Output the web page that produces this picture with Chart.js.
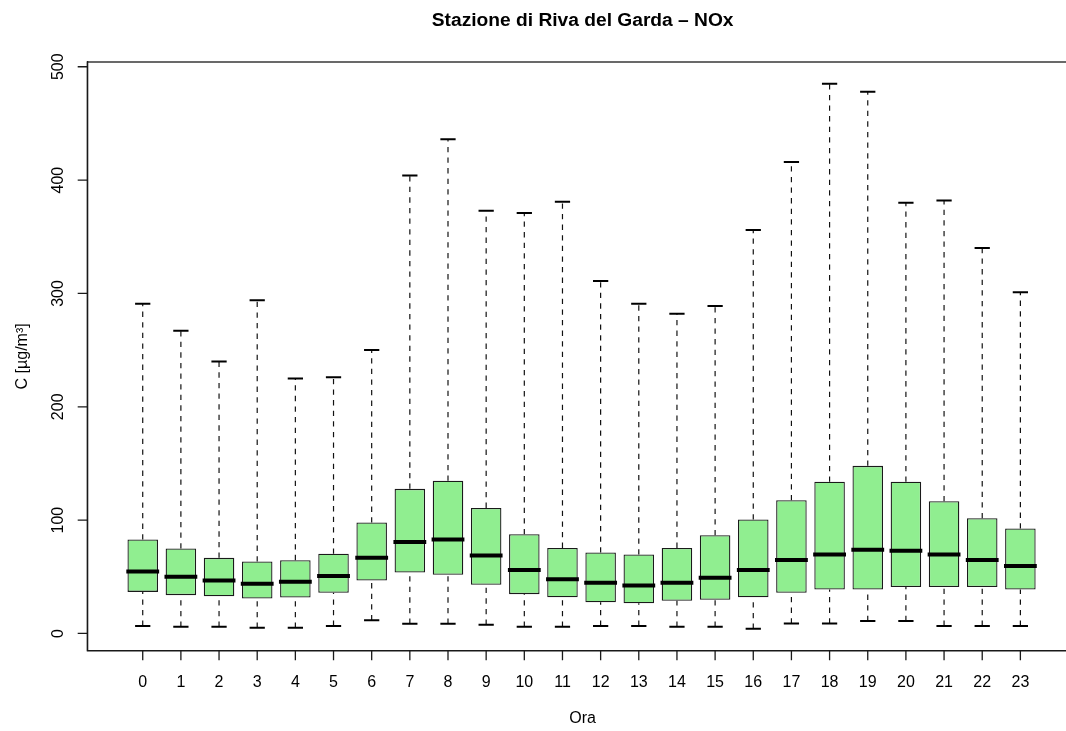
<!DOCTYPE html>
<html>
<head>
<meta charset="utf-8">
<script src="https://cdn.jsdelivr.net/npm/chart.js@4/dist/chart.umd.min.js"></script>
<style>
  html, body { margin: 0; padding: 0; background: #fff; overflow: hidden; }
  #wrap { width: 1100px; height: 731px; }
</style>
</head>
<body>
<div id="wrap"><canvas id="c" width="1100" height="731"></canvas></div>
<script>
// ---- data ----
const hours = ['0','1','2','3','4','5','6','7','8','9','10','11','12','13','14','15','16','17','18','19','20','21','22','23'];
const whiskerLow  = [6.7,5.9,5.9,5.0,5.0,6.7,11.7,8.5,8.5,7.6,5.9,5.9,6.7,6.7,5.9,5.9,4.1,8.8,8.8,10.9,10.9,6.7,6.7,6.7];
const q1          = [36.7,33.8,32.9,30.9,31.8,35.9,46.8,53.8,51.7,42.9,34.7,32.0,27.6,26.7,28.8,29.7,32.0,35.9,38.8,38.8,40.9,40.9,40.9,38.8];
const median      = [54.7,50.0,46.8,43.8,45.6,50.8,66.7,80.8,82.9,68.8,55.9,47.9,44.7,42.4,44.7,49.1,55.9,64.9,69.7,73.8,72.9,69.7,64.9,59.6];
const q3          = [82.9,75.0,66.7,63.5,64.7,70.3,97.9,127.6,134.7,110.8,87.6,75.5,71.5,69.7,75.5,86.7,100.6,117.6,133.8,147.9,133.8,116.7,101.7,92.6];
const whiskerHigh = [291,267,240,294,225,226,250,404,436,373,371,381,311,291,282,289,356,416,485,478,380,382,340,301];
const yTicks = [0,100,200,300,400,500];

const titleText = 'Stazione di Riva del Garda \u2013 NOx';
const xTitle = 'Ora';
const yTitle = 'C [\u00b5g/m\u00b3]';

// ---- build datasets from the arrays ----
const BOX_HALF = 0.4, CAP_HALF = 0.2;
const boxData = hours.map((h, i) => ({ x: i, y: [q1[i], q3[i]] }));
const whiskerData = [];
const capData = [];
const medData = [];
hours.forEach((h, i) => {
  whiskerData.push({x: i, y: q3[i]}, {x: i, y: whiskerHigh[i]}, {x: i, y: null});
  whiskerData.push({x: i, y: whiskerLow[i]}, {x: i, y: q1[i]}, {x: i, y: null});
  capData.push({x: i - CAP_HALF, y: whiskerHigh[i]}, {x: i + CAP_HALF, y: whiskerHigh[i]}, {x: i, y: null});
  capData.push({x: i - CAP_HALF, y: whiskerLow[i]}, {x: i + CAP_HALF, y: whiskerLow[i]}, {x: i, y: null});
  medData.push({x: i - BOX_HALF - 0.03, y: median[i]}, {x: i + BOX_HALF + 0.03, y: median[i]}, {x: i, y: null});
});

const FONT = 'Liberation Sans, Arial, Helvetica, sans-serif';
const TICK_LEN = 9.6;

const framePlugin = {
  id: 'frame',
  afterLayout(chart) {
    const t = chart.titleBlock;
    if (t) { t.left = chart.chartArea.left; t.right = chart.chartArea.right; t.width = t.right - t.left; }
  },
  afterDraw(chart) {
    const {ctx, chartArea: a, scales} = chart;
    ctx.save();
    ctx.setLineDash([]);
    ctx.lineCap = 'butt';
    ctx.globalAlpha = 1;
    ctx.globalCompositeOperation = 'source-over';
    ctx.strokeStyle = '#1a1a1a';
    ctx.lineWidth = 1.3;
    ctx.strokeRect(a.left, a.top, a.right - a.left, a.bottom - a.top);
    // outward tick marks, placed through the library's scales
    ctx.beginPath();
    scales.x.ticks.forEach(t => {
      const px = scales.x.getPixelForValue(t.value);
      ctx.moveTo(px, a.bottom); ctx.lineTo(px, a.bottom + TICK_LEN);
    });
    scales.y.ticks.forEach(t => {
      const py = scales.y.getPixelForValue(t.value);
      ctx.moveTo(a.left, py); ctx.lineTo(a.left - TICK_LEN, py);
    });
    ctx.stroke();
    ctx.restore();
  }
};

const gridOpts = { display: true, offset: false, drawOnChartArea: false, drawTicks: true, tickLength: TICK_LEN, tickColor: 'rgba(0,0,0,0)', color: 'rgba(0,0,0,0)' };

new Chart(document.getElementById('c'), {
  type: 'bar',
  data: {
    datasets: [
      { type: 'line', label: 'whiskers', data: whiskerData, borderColor: '#111', borderWidth: 1.2, borderDash: [5.3, 5.3], pointRadius: 0, spanGaps: false, fill: false, order: 3 },
      { type: 'bar', label: 'box', data: boxData, backgroundColor: '#90EE90', borderColor: '#1a1a1a', borderWidth: 1.3, borderSkipped: false, categoryPercentage: 1.0, barPercentage: 0.8, order: 2 },
      { type: 'line', label: 'caps', data: capData, borderColor: '#000', borderWidth: 2, pointRadius: 0, spanGaps: false, fill: false, order: 1 },
      { type: 'line', label: 'median', data: medData, borderColor: '#000', borderWidth: 4, pointRadius: 0, spanGaps: false, fill: false, order: 0 }
    ]
  },
  options: {
    responsive: false, animation: false, events: [],
    layout: { padding: { left: 0, right: 22, top: 0, bottom: 0 } },
    plugins: {
      legend: { display: false }, tooltip: { enabled: false },
      title: { display: true, text: titleText, color: '#000', font: { family: FONT, size: 19.2, weight: 'bold', lineHeight: 1.2 }, padding: { top: 9.2, bottom: 29.76 } }
    },
    scales: {
      x: {
        type: 'linear', offset: false, min: -1.4525, max: 24.51,
        afterBuildTicks: (axis) => { axis.ticks = hours.map((h, i) => ({ value: i })); },
        afterFit: (axis) => { axis.height = 80.3; },
        ticks: { autoSkip: false, maxRotation: 0, minRotation: 0, padding: 13, color: '#000', font: { family: FONT, size: 16, lineHeight: 1.2 }, callback: (v) => hours[v] },
        grid: gridOpts,
        border: { display: true, color: '#222', width: 1.3 },
        title: { display: true, text: xTitle, color: '#000', font: { family: FONT, size: 16, lineHeight: 1.2 }, padding: { top: 0, bottom: 2.4 } }
      },
      y: {
        type: 'linear', min: -15.2, max: 504.2,
        afterBuildTicks: (axis) => { axis.ticks = yTicks.map(v => ({ value: v })); },
        afterFit: (axis) => { axis.width = 87.3; },
        ticks: { minRotation: 90, maxRotation: 90, crossAlign: 'center', padding: 5.6, color: '#000', font: { family: FONT, size: 16, lineHeight: 1.2 }, callback: (v) => String(v) },
        grid: gridOpts,
        border: { display: true, color: '#222', width: 1.3 },
        title: { display: true, text: yTitle, color: '#000', font: { family: FONT, size: 16, lineHeight: 1.2 }, padding: { top: 13, bottom: 0 } }
      }
    }
  },
  plugins: [framePlugin]
});
</script>
</body>
</html>
